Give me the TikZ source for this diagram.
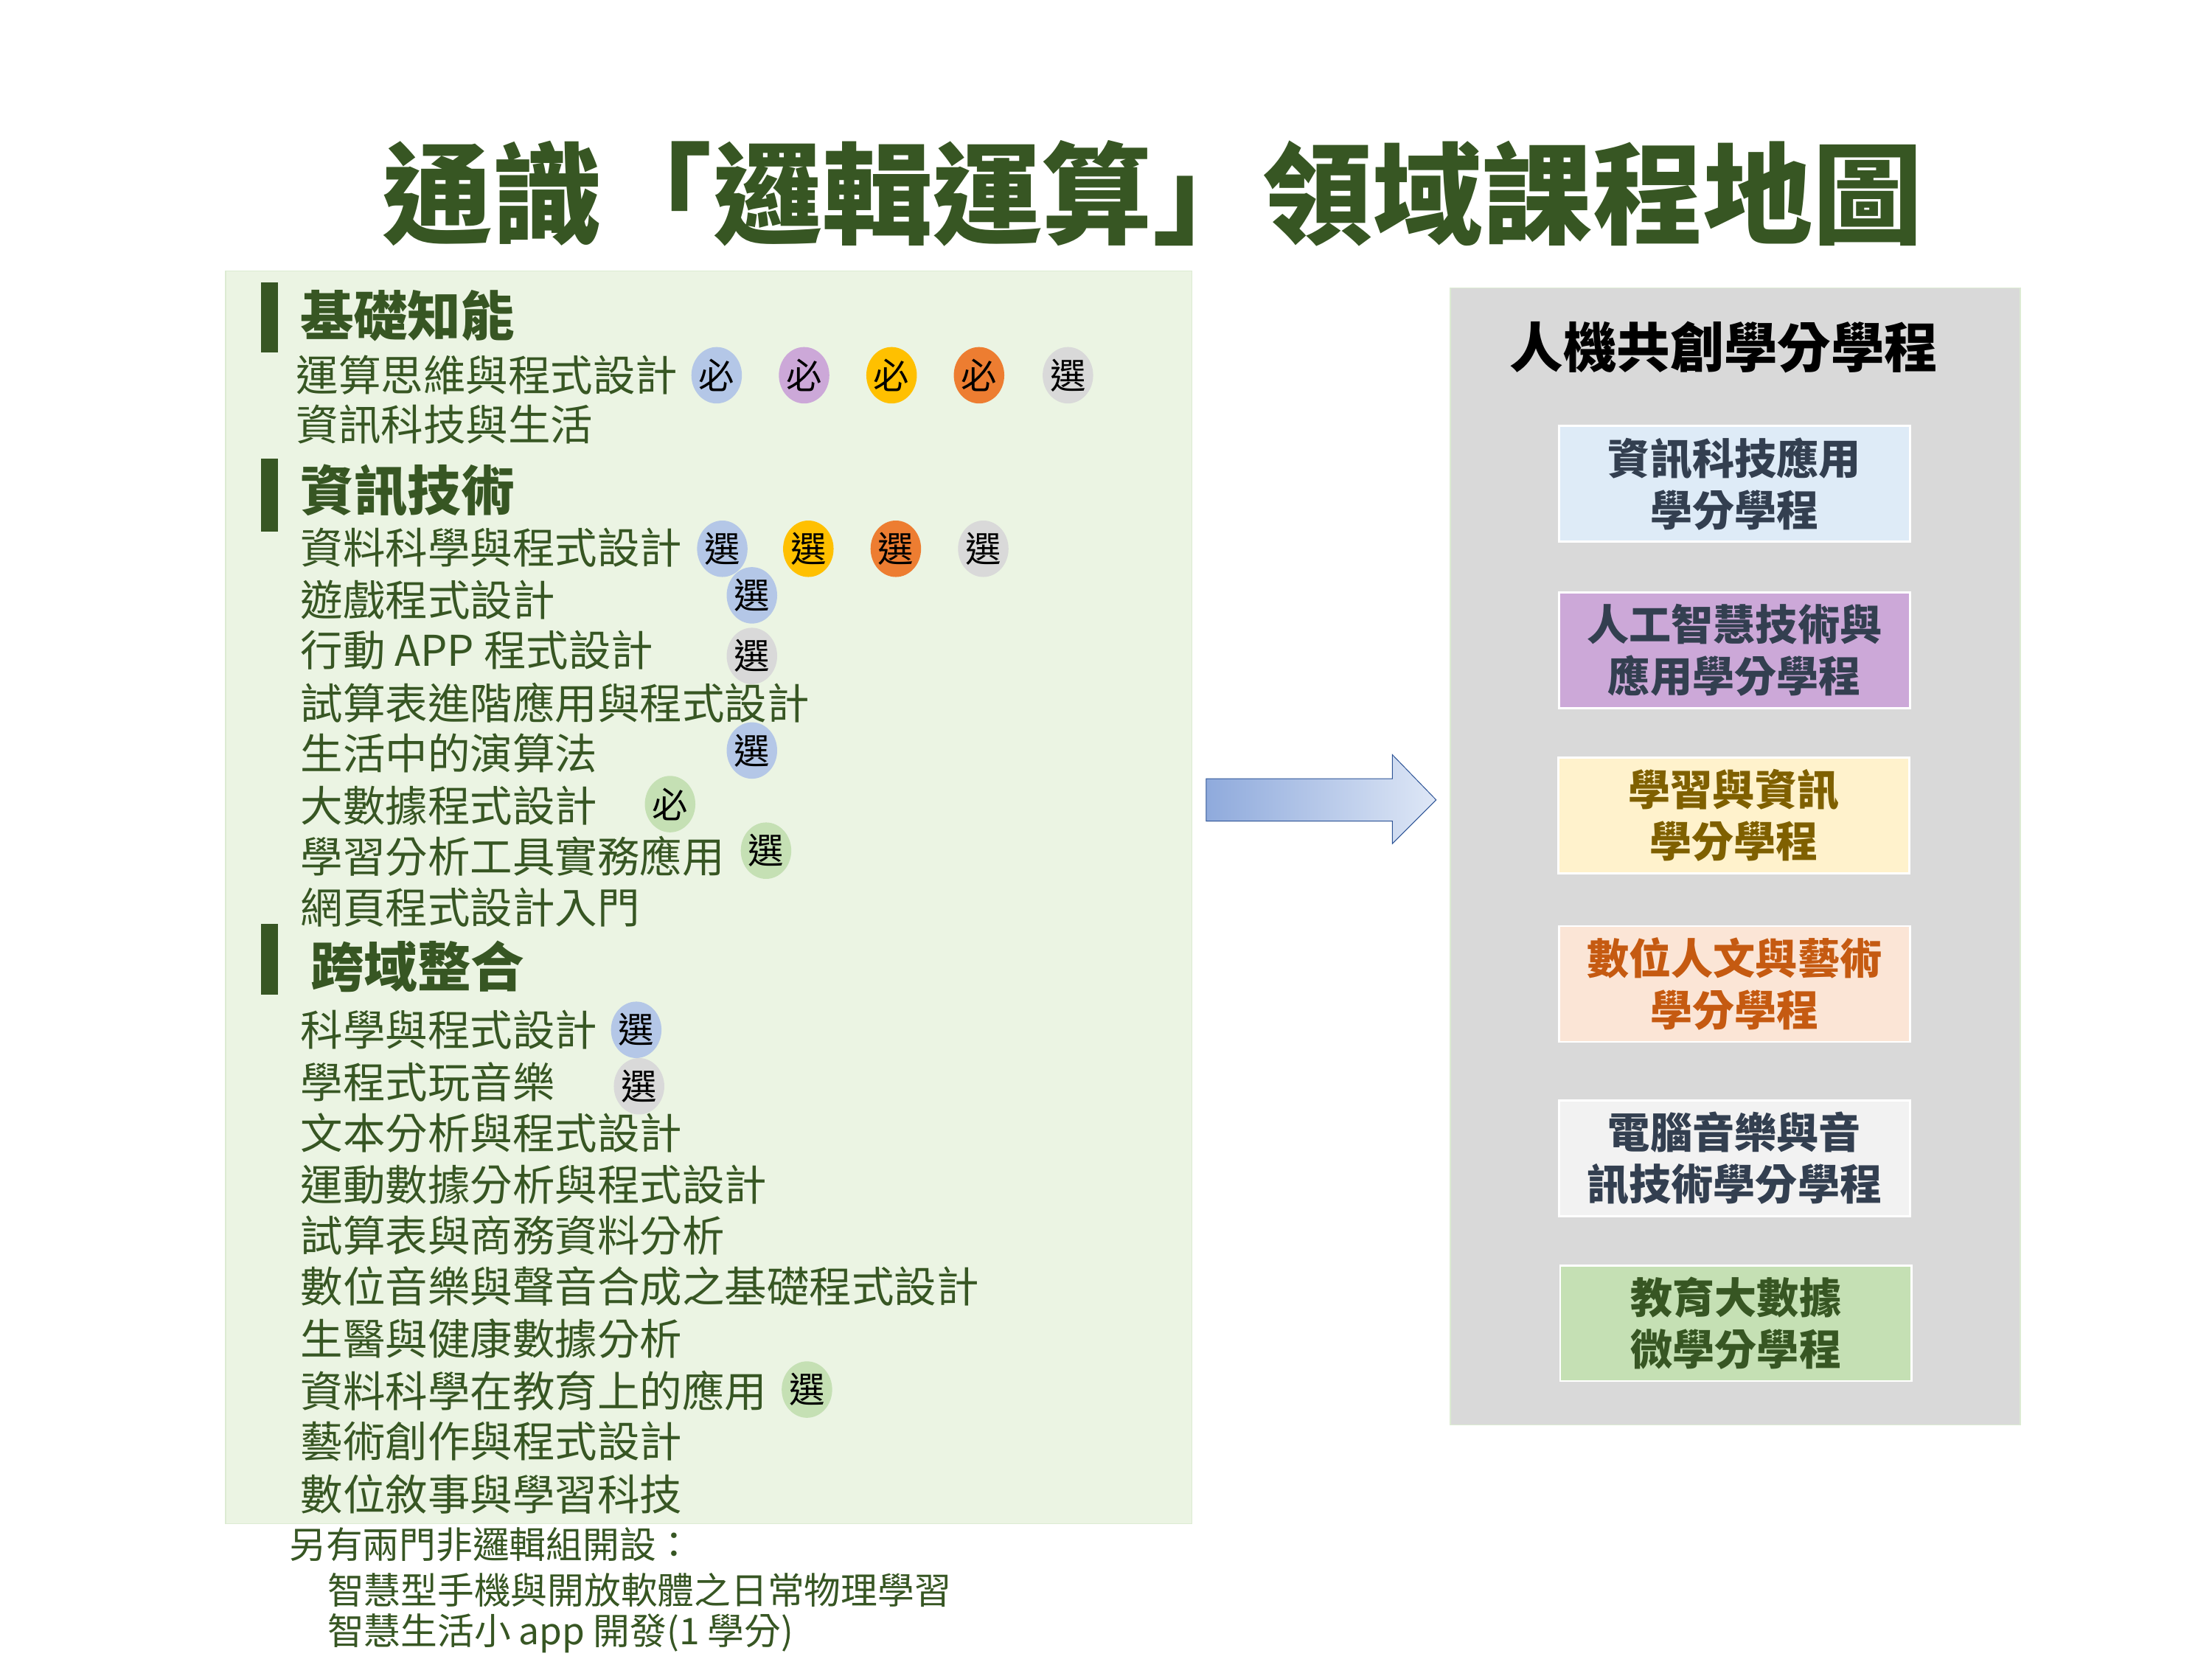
\documentclass[tikz,border=0pt]{standalone}
\usepackage{fontspec}
\setmainfont{Noto Sans CJK TC}
\usetikzlibrary{shapes.geometric}
\definecolor{dg}{HTML}{375623}
\definecolor{panelL}{HTML}{EBF4E3}
\definecolor{panelLb}{HTML}{DCEBD2}
\definecolor{bB}{HTML}{B4C7E7}
\definecolor{bP}{HTML}{CCA8D8}
\definecolor{bY}{HTML}{FFC000}
\definecolor{bO}{HTML}{ED7D31}
\definecolor{bG}{HTML}{D9D9D9}
\definecolor{bN}{HTML}{C5E0B4}
\definecolor{slate}{HTML}{333F50}
\definecolor{f1}{HTML}{DEEBF7}
\definecolor{f3}{HTML}{FFF2CC}
\definecolor{f4}{HTML}{FBE5D6}
\definecolor{f5}{HTML}{F2F2F2}
\definecolor{t3}{HTML}{7F6000}
\definecolor{t4}{HTML}{C55A11}
\definecolor{arB}{HTML}{2F5597}
\definecolor{arL}{HTML}{8FAADC}
\definecolor{arR}{HTML}{DEE7F6}
\tikzset{
 x=0.1cm,y=-0.1cm,
 course/.style={anchor=west,inner sep=0pt,text=dg,font=\fontsize{85.5}{85.5}\selectfont},
 head/.style={anchor=west,inner sep=0pt,text=dg,font=\fontsize{108}{108}\selectfont\bfseries},
 foot/.style={anchor=west,inner sep=0pt,text=dg,font=\fontsize{74}{74}\selectfont},
 badge/.style={ellipse,fill=#1,minimum width=3.5cm,minimum height=4cm,inner sep=0pt,font=\fontsize{72}{72}\selectfont},
 prog/.style={draw=white,line width=4pt,fill=#1,minimum width=24.9cm,minimum height=8.2cm,align=center,inner sep=0pt,font=\fontsize{85}{104}\selectfont\bfseries},
}
\begin{document}
\begin{tikzpicture}
\useasboundingbox[fill=white] (0,0) rectangle (1568,1176);
\node[text=dg,font=\fontsize{222}{222}\selectfont\bfseries,inner sep=0pt] (title) at (817,137) {通識「邏輯運算」領域課程地圖};
% left panel
\draw[fill=panelL,draw=panelLb,line width=2pt] (160,192) rectangle (845,1080);
\fill[dg] (185,200) rectangle (197,250);
\fill[dg] (185,325) rectangle (197,377);
\fill[dg] (185,655) rectangle (197,705);
\node[head] (h1) at (213,224) {基礎知能};
\node[head] (h2) at (213,348) {資訊技術};
\node[head] (h3) at (220,685) {跨域整合};
\node[course] (c1) at (210,266) {運算思維與程式設計};
\node[course] (c2) at (210,301) {資訊科技與生活};
\node[course] (c3) at (213,388) {資料科學與程式設計};
\node[course] (c4) at (213,425) {遊戲程式設計};
\node[course] (c5) at (213,461) {行動 APP 程式設計};
\node[course] (c6) at (213,498) {試算表進階應用與程式設計};
\node[course] (c7) at (213,534) {生活中的演算法};
\node[course] (c8) at (213,571) {大數據程式設計};
\node[course] (c9) at (213,607) {學習分析工具實務應用};
\node[course] (c10) at (213,643) {網頁程式設計入門};
\node[course] (d1) at (213,730) {科學與程式設計};
\node[course] (d2) at (213,767) {學程式玩音樂};
\node[course] (d3) at (213,803) {文本分析與程式設計};
\node[course] (d4) at (213,840) {運動數據分析與程式設計};
\node[course] (d5) at (213,876) {試算表與商務資料分析};
\node[course] (d6) at (213,912) {數位音樂與聲音合成之基礎程式設計};
\node[course] (d7) at (213,949) {生醫與健康數據分析};
\node[course] (d8) at (213,986) {資料科學在教育上的應用};
\node[course] (d9) at (213,1022) {藝術創作與程式設計};
\node[course] (d10) at (213,1059) {數位敘事與學習科技};
% badges
\node[badge=bB] (b1) at (508,266) {必};
\node[badge=bP] (b2) at (570,266) {必};
\node[badge=bY] (b3) at (632,266) {必};
\node[badge=bO] (b4) at (694,266) {必};
\node[badge=bG] (b5) at (757,266) {選};
\node[badge=bB] (b6) at (512,389) {選};
\node[badge=bY] (b7) at (573,389) {選};
\node[badge=bO] (b8) at (635,389) {選};
\node[badge=bG] (b9) at (697,389) {選};
\node[badge=bB] (b10) at (533,422) {選};
\node[badge=bG] (b11) at (533,465) {選};
\node[badge=bB] (b12) at (533,532) {選};
\node[badge=bN] (b13) at (475,570) {必};
\node[badge=bN] (b14) at (543,603) {選};
\node[badge=bB] (b15) at (451,730) {選};
\node[badge=bG] (b16) at (453,770) {選};
\node[badge=bN] (b17) at (572,985) {選};
% footnote
\node[foot] (fa) at (205,1095) {另有兩門非邏輯組開設：};
\node[foot] (fb) at (232,1127) {智慧型手機與開放軟體之日常物理學習};
\node[foot] (fc) at (232,1158) {智慧生活小 app 開發(1 學分)};
% arrow
\draw[draw=arB,line width=1.5pt,left color=arL,right color=arR]
 (855,552) -- (987,552) -- (987,535) -- (1018,567) -- (987,598) -- (987,582) -- (855,582) -- cycle;
% right panel
\draw[fill=bG,draw=panelLb,line width=2pt] (1028,204) rectangle (1432,1010);
\node[font=\fontsize{108}{108}\selectfont\bfseries,inner sep=0pt] (rt) at (1222,246) {人機共創學分學程};
\node[prog=f1,text=slate] (p1) at (1229.5,343) {資訊科技應用\\學分學程};
\node[prog=bP,text=slate] (p2) at (1229.5,461) {人工智慧技術與\\應用學分學程};
\node[prog=f3,text=t3] (p3) at (1229,578) {學習與資訊\\學分學程};
\node[prog=f4,text=t4] (p4) at (1229.5,697.5) {數位人文與藝術\\學分學程};
\node[prog=f5,text=slate] (p5) at (1229.5,821) {電腦音樂與音\\訊技術學分學程};
\node[prog=bN,text=dg] (p6) at (1230.5,938) {教育大數據\\微學分學程};
\end{tikzpicture}
\end{document}
